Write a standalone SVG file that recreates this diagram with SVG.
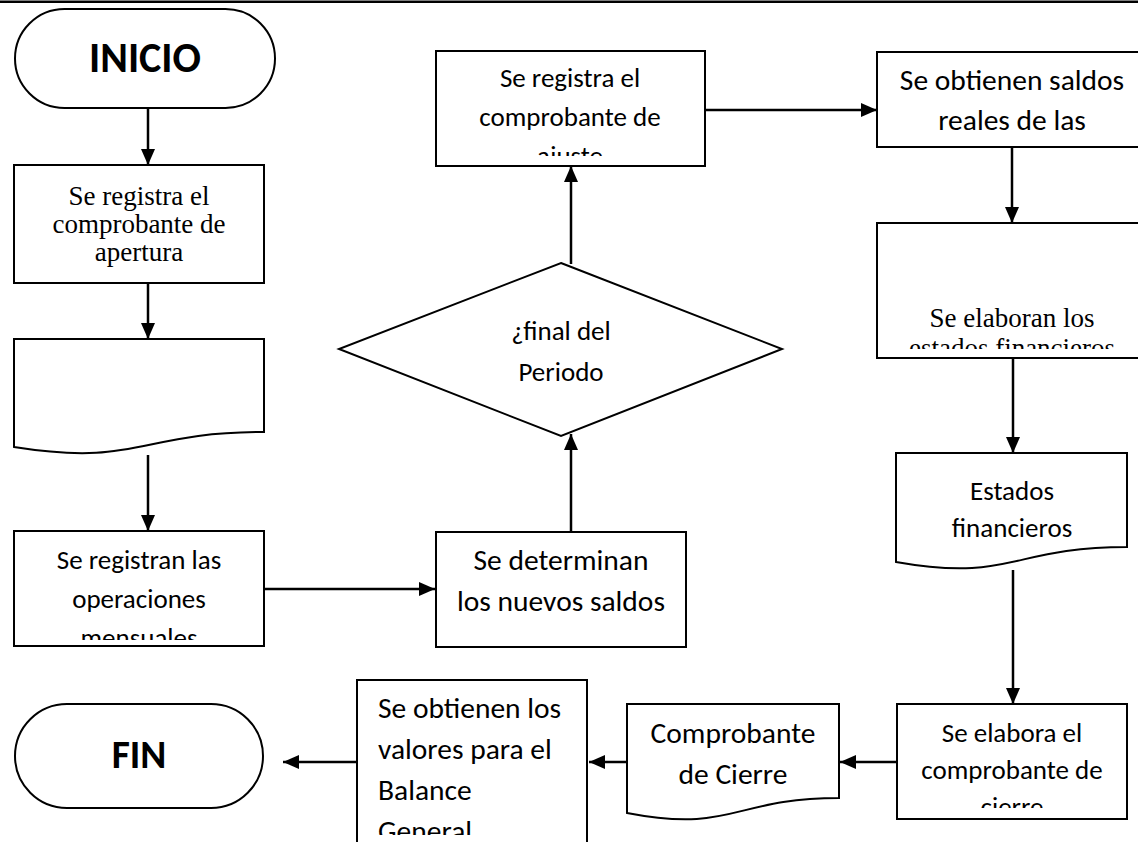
<svg xmlns="http://www.w3.org/2000/svg" width="1138" height="842" viewBox="0 0 1138 842">
<style>
  .shape { fill: #fff; stroke: #000; stroke-width: 2; }
  .conn line { stroke: #000; stroke-width: 2.5; marker-end: url(#ah); }
  .c { font-family: Carlito, Lato, "Open Sans", sans-serif; font-size: 27px; fill: #000; text-anchor: middle; }
  .big { font-size: 29.5px; }
  .l { text-anchor: start; }
  .t { font-family: "Liberation Serif", "Times New Roman", serif; font-size: 27px; fill: #000; text-anchor: middle; }
  .b { font-family: Carlito, Lato, "Open Sans", sans-serif; font-weight: bold; fill: #000; text-anchor: middle; }
</style>
<defs>
  <marker id="ah" markerUnits="userSpaceOnUse" markerWidth="16" markerHeight="16" viewBox="0 0 16 16" refX="16" refY="8" orient="auto">
    <path d="M0,1 L16,8 L0,15 Z" fill="#000"/>
  </marker>
  <clipPath id="cpAjuste"><rect x="437" y="52" width="267" height="104"/></clipPath>
  <clipPath id="cpSaldos"><rect x="878" y="53" width="260" height="86"/></clipPath>
  <clipPath id="cpEstados"><rect x="878" y="224" width="260" height="125"/></clipPath>
  <clipPath id="cpMens"><rect x="15" y="532" width="248" height="108"/></clipPath>
  <clipPath id="cpCierre"><rect x="898" y="705" width="228" height="103"/></clipPath>
  <clipPath id="cpGeneral"><rect x="358" y="681" width="228" height="154"/></clipPath>
</defs>
<rect x="0" y="0.5" width="1138" height="2.5" fill="#000"/>

<g id="inicio">
  <rect class="shape" x="15" y="9" width="260" height="99" rx="49.5" ry="49.5"/>
  <text class="b" x="145" y="72" font-size="42">INICIO</text>
</g>

<g id="apertura">
  <rect class="shape" x="14" y="165" width="250" height="118"/>
  <text class="t" x="139" y="205">Se registra el</text>
  <text class="t" x="139" y="233">comprobante de</text>
  <text class="t" x="139" y="261">apertura</text>
</g>

<g id="documento">
  <path class="shape" d="M14,339 H264 V432 C139,432 139,467 14,447 Z"/>
</g>

<g id="operaciones">
  <rect class="shape" x="14" y="531" width="250" height="115"/>
  <g clip-path="url(#cpMens)">
    <text class="c" x="139" y="569" font-size="26.5">Se registran las</text>
    <text class="c" x="139" y="608" font-size="26.5">operaciones</text>
    <text class="c" x="139" y="647" font-size="26.5">mensuales</text>
  </g>
</g>

<g id="nuevos-saldos">
  <rect class="shape" x="436" y="532" width="250" height="115"/>
  <text class="c big" x="561" y="570">Se determinan</text>
  <text class="c big" x="561" y="611">los nuevos saldos</text>
</g>

<g id="final-periodo">
  <polygon class="shape" points="561,263 782,349 561,436 339,349"/>
  <text class="c" x="561" y="340" font-size="29">¿final del</text>
  <text class="c" x="561" y="381" font-size="29">Periodo</text>
</g>

<g id="ajuste">
  <rect class="shape" x="436" y="51" width="269" height="115"/>
  <g clip-path="url(#cpAjuste)">
    <text class="c" x="570" y="87">Se registra el</text>
    <text class="c" x="570" y="126">comprobante de</text>
    <text class="c" x="570" y="165">ajuste</text>
  </g>
</g>

<g id="saldos-reales">
  <rect class="shape" x="877" y="52" width="265" height="95"/>
  <g clip-path="url(#cpSaldos)">
    <text class="c big" x="1012" y="90">Se obtienen saldos</text>
    <text class="c big" x="1012" y="130">reales de las</text>
    <text class="c big" x="1012" y="170">cuentas</text>
  </g>
</g>

<g id="elaboran-estados">
  <rect class="shape" x="877" y="223" width="265" height="135"/>
  <g clip-path="url(#cpEstados)">
    <text class="t" x="1012" y="327" font-size="26.6">Se elaboran los</text>
    <text class="t" x="1012" y="357" font-size="26.6">estados financieros</text>
  </g>
</g>

<g id="estados-financieros">
  <path class="shape" d="M896,453 H1127 V547 C1011.5,547 1011.5,582.5 896,562 Z"/>
  <text class="c" x="1012" y="500" font-size="28">Estados</text>
  <text class="c" x="1012" y="537" font-size="28">financieros</text>
</g>

<g id="elabora-cierre">
  <rect class="shape" x="897" y="704" width="230" height="115"/>
  <g clip-path="url(#cpCierre)">
    <text class="c" x="1012" y="742">Se elabora el</text>
    <text class="c" x="1012" y="779">comprobante de</text>
    <text class="c" x="1012" y="816">cierre</text>
  </g>
</g>

<g id="comprobante-cierre">
  <path class="shape" d="M627,704 H839 V798 C733,798 733,833.5 627,813 Z"/>
  <text class="c big" x="733" y="743">Comprobante</text>
  <text class="c big" x="733" y="784">de Cierre</text>
</g>

<g id="balance">
  <rect class="shape" x="357" y="680" width="230" height="175"/>
  <g clip-path="url(#cpGeneral)">
    <text class="c big l" x="378" y="718">Se obtienen los</text>
    <text class="c big l" x="378" y="759">valores para el</text>
    <text class="c big l" x="378" y="800">Balance</text>
    <text class="c big l" x="378" y="841">General</text>
  </g>
</g>

<g id="fin">
  <rect class="shape" x="15" y="704" width="248" height="104" rx="52" ry="52"/>
  <text class="b" x="139" y="768" font-size="39.5">FIN</text>
</g>

<g id="connectors" class="conn">
  <line x1="148" y1="108" x2="148" y2="165"/>
  <line x1="148" y1="283" x2="148" y2="339"/>
  <line x1="148" y1="455" x2="148" y2="531"/>
  <line x1="264" y1="589" x2="435" y2="589"/>
  <line x1="571" y1="532" x2="571" y2="434"/>
  <line x1="571" y1="264" x2="571" y2="166"/>
  <line x1="705" y1="110" x2="877" y2="110"/>
  <line x1="1012" y1="147" x2="1012" y2="223"/>
  <line x1="1013" y1="358" x2="1013" y2="453"/>
  <line x1="1013" y1="570" x2="1013" y2="704"/>
  <line x1="897" y1="762" x2="840" y2="762"/>
  <line x1="627" y1="762" x2="589" y2="762"/>
  <line x1="357" y1="762" x2="283" y2="762"/>
</g>
</svg>
